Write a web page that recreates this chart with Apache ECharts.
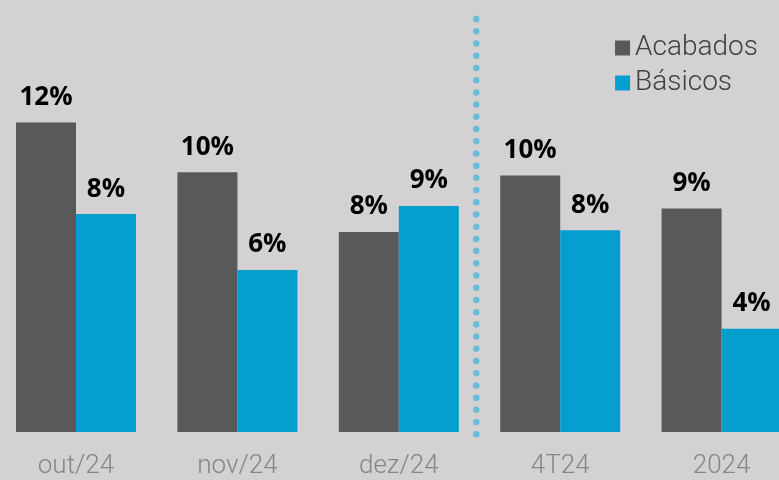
<!DOCTYPE html>
<html>
<head>
<meta charset="utf-8">
<style>
  html, body { margin: 0; padding: 0; background: #d3d1d2; }
  #chart { width: 779px; height: 480px; }
</style>
<script src="https://cdn.jsdelivr.net/npm/echarts@6/dist/echarts.min.js"></script>
</head>
<body>
<div id="chart"></div>
<script>
// Periods on the category axis
const categories = ['out/24', 'nov/24', 'dez/24', '4T24', '2024'];
// Growth per product line, in percent
const acabados = [11.9, 9.99, 7.69, 9.87, 8.6];
const basicos = [8.38, 6.23, 8.69, 7.76, 3.97];
const seriesNames = ['Acabados', 'Básicos'];
// Separator between monthly and aggregated periods (value-axis position)
const separatorAt = 2.48;
const separatorSpan = [15.88, -0.14];

const chart = echarts.init(document.getElementById('chart'));

const labelStyle = {
  show: true,
  position: 'top',
  distance: 12,
  fontFamily: 'Open Sans',
  fontWeight: 'bold',
  fontSize: 26,
  color: '#000000',
  formatter: p => Math.round(p.value) + '%'
};

chart.setOption({
  backgroundColor: '#d3d1d2',
  animation: false,
  legend: {
    orient: 'vertical',
    right: 16,
    top: 29,
    itemWidth: 15,
    itemHeight: 15,
    itemGap: 7,
    icon: 'rect',
    textStyle: {
      fontFamily: 'Roboto',
      fontWeight: 300,
      fontSize: 28,
      color: '#404040'
    },
    data: seriesNames
  },
  grid: {
    left: -4.7,
    right: -23.3,
    top: 16,
    bottom: 48,
    containLabel: false,
    outerBoundsMode: 'none'
  },
  xAxis: [
    {
      type: 'category',
      data: categories,
      axisLine: { show: false },
      axisTick: { show: false },
      axisLabel: {
        margin: 21,
        fontFamily: 'Roboto',
        fontWeight: 300,
        fontSize: 26,
        color: '#868686'
      }
    },
    {
      type: 'value',
      min: -0.5,
      max: 4.5,
      show: false
    }
  ],
  yAxis: {
    type: 'value',
    min: 0,
    max: 16,
    show: false
  },
  series: [
    {
      name: seriesNames[0],
      type: 'bar',
      data: acabados,
      barWidth: 60,
      barGap: '0%',
      itemStyle: { color: '#595959' },
      label: labelStyle
    },
    {
      name: seriesNames[1],
      type: 'bar',
      data: basicos,
      barWidth: 60,
      barGap: '0%',
      itemStyle: { color: '#059fcf' },
      label: labelStyle
    },
    {
      // dotted separator between months and aggregated periods
      type: 'line',
      xAxisIndex: 1,
      data: [
        [separatorAt, separatorSpan[0]],
        [separatorAt, separatorSpan[1]]
      ],
      symbol: 'none',
      showSymbol: false,
      clip: false,
      silent: true,
      z: 1,
      lineStyle: {
        color: '#6bbcd9',
        width: 6.5,
        type: [0.01, 12.2],
        cap: 'round'
      }
    }
  ]
});
</script>
</body>
</html>
